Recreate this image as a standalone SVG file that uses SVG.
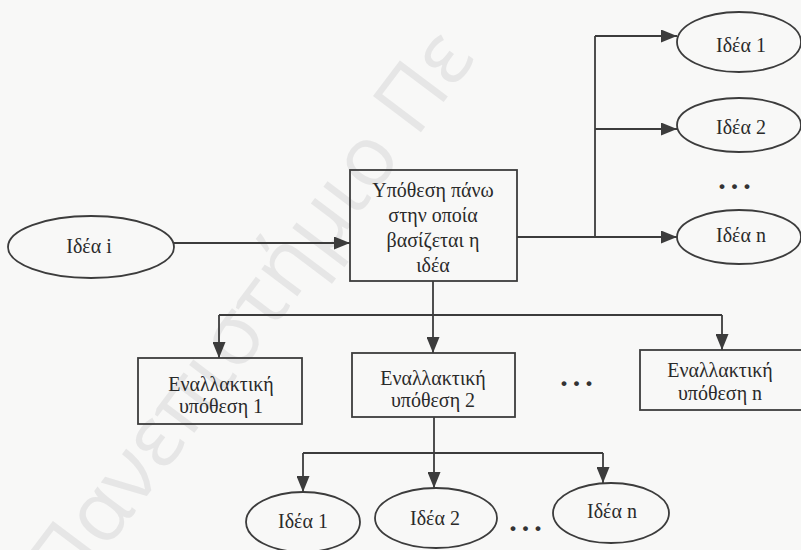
<svg xmlns="http://www.w3.org/2000/svg" width="801" height="550" viewBox="0 0 801 550">
<defs>
<marker id="arr" markerUnits="userSpaceOnUse" markerWidth="16" markerHeight="13" refX="16" refY="6.5" orient="auto">
<path d="M0,0 L16,6.5 L0,13 z" fill="#3c3c3c"/>
</marker>
<style>
.bg{fill:#f8f8f7}
.wm{font-family:"Open Sans","DejaVu Sans",sans-serif;font-size:84px;fill:#e6e6e6}
.shape{fill:none;stroke:#3c3c3c;stroke-width:1.8}
.conn{fill:none;stroke:#3c3c3c;stroke-width:1.8}
.lbl{font-family:"Liberation Serif","DejaVu Serif",serif;font-size:20px;fill:#2a2a2a;text-anchor:middle}
.dots{font-family:"Liberation Serif","DejaVu Serif",serif;font-size:30px;font-weight:bold;fill:#333;text-anchor:middle;letter-spacing:5px}
</style>
</defs>
<rect class="bg" x="0" y="0" width="801" height="550"/>
<text class="wm" x="247" y="309" dominant-baseline="central" text-anchor="middle" transform="rotate(-53 247 309)">Πανεπιστήμιο Πε</text>

<g id="connectors">
<line class="conn" x1="174" y1="243" x2="350" y2="243" marker-end="url(#arr)"/>
<polyline class="conn" points="517,237 595,237"/>
<line class="conn" x1="595" y1="36" x2="595" y2="237"/>
<line class="conn" x1="595" y1="36" x2="677" y2="36" marker-end="url(#arr)"/>
<line class="conn" x1="595" y1="129" x2="677" y2="129" marker-end="url(#arr)"/>
<line class="conn" x1="595" y1="237" x2="677" y2="237" marker-end="url(#arr)"/>
<line class="conn" x1="433" y1="281" x2="433" y2="353" marker-end="url(#arr)"/>
<line class="conn" x1="219" y1="315" x2="722" y2="315"/>
<line class="conn" x1="219" y1="315" x2="219" y2="358" marker-end="url(#arr)"/>
<line class="conn" x1="722" y1="315" x2="722" y2="350" marker-end="url(#arr)"/>
<line class="conn" x1="434" y1="417" x2="434" y2="488" marker-end="url(#arr)"/>
<line class="conn" x1="303" y1="453" x2="603" y2="453"/>
<line class="conn" x1="303" y1="453" x2="303" y2="492" marker-end="url(#arr)"/>
<line class="conn" x1="603" y1="453" x2="603" y2="483" marker-end="url(#arr)"/>
</g>

<g id="idea-i">
<ellipse class="shape" cx="91" cy="247" rx="83" ry="31"/>
<text class="lbl" x="89" y="253">Ιδέα i</text>
</g>
<g id="hypothesis">
<rect class="shape" x="350" y="170" width="167" height="111"/>
<text class="lbl" x="433" y="197">Υπόθεση πάνω</text>
<text class="lbl" x="433" y="222">στην οποία</text>
<text class="lbl" x="433" y="247">βασίζεται η</text>
<text class="lbl" x="433" y="272">ιδέα</text>
</g>
<g id="idea-r1">
<ellipse class="shape" cx="739" cy="42" rx="62" ry="30"/>
<text class="lbl" x="741" y="52">Ιδέα 1</text>
</g>
<g id="idea-r2">
<ellipse class="shape" cx="739" cy="125" rx="62" ry="27"/>
<text class="lbl" x="741" y="134">Ιδέα 2</text>
</g>
<text class="dots" x="737" y="189">...</text>
<g id="idea-rn">
<ellipse class="shape" cx="739" cy="237" rx="62" ry="27"/>
<text class="lbl" x="741" y="242">Ιδέα n</text>
</g>
<g id="alt-1">
<rect class="shape" x="138" y="358" width="164" height="66"/>
<text class="lbl" x="221" y="391">Εναλλακτική</text>
<text class="lbl" x="221" y="413">υπόθεση 1</text>
</g>
<g id="alt-2">
<rect class="shape" x="352" y="353" width="163" height="64"/>
<text class="lbl" x="433" y="385">Εναλλακτική</text>
<text class="lbl" x="433" y="407">υπόθεση 2</text>
</g>
<text class="dots" x="579" y="386">...</text>
<g id="alt-n">
<rect class="shape" x="640" y="350" width="166" height="60"/>
<text class="lbl" x="720" y="377">Εναλλακτική</text>
<text class="lbl" x="720" y="400">υπόθεση n</text>
</g>
<g id="idea-b1">
<ellipse class="shape" cx="303" cy="522" rx="57" ry="30"/>
<text class="lbl" x="303" y="528">Ιδέα 1</text>
</g>
<g id="idea-b2">
<ellipse class="shape" cx="436" cy="518" rx="61" ry="30"/>
<text class="lbl" x="435" y="525">Ιδέα 2</text>
</g>
<text class="dots" x="528" y="531">...</text>
<g id="idea-bn">
<ellipse class="shape" cx="611" cy="513" rx="58" ry="30"/>
<text class="lbl" x="612" y="518">Ιδέα n</text>
</g>
</svg>
